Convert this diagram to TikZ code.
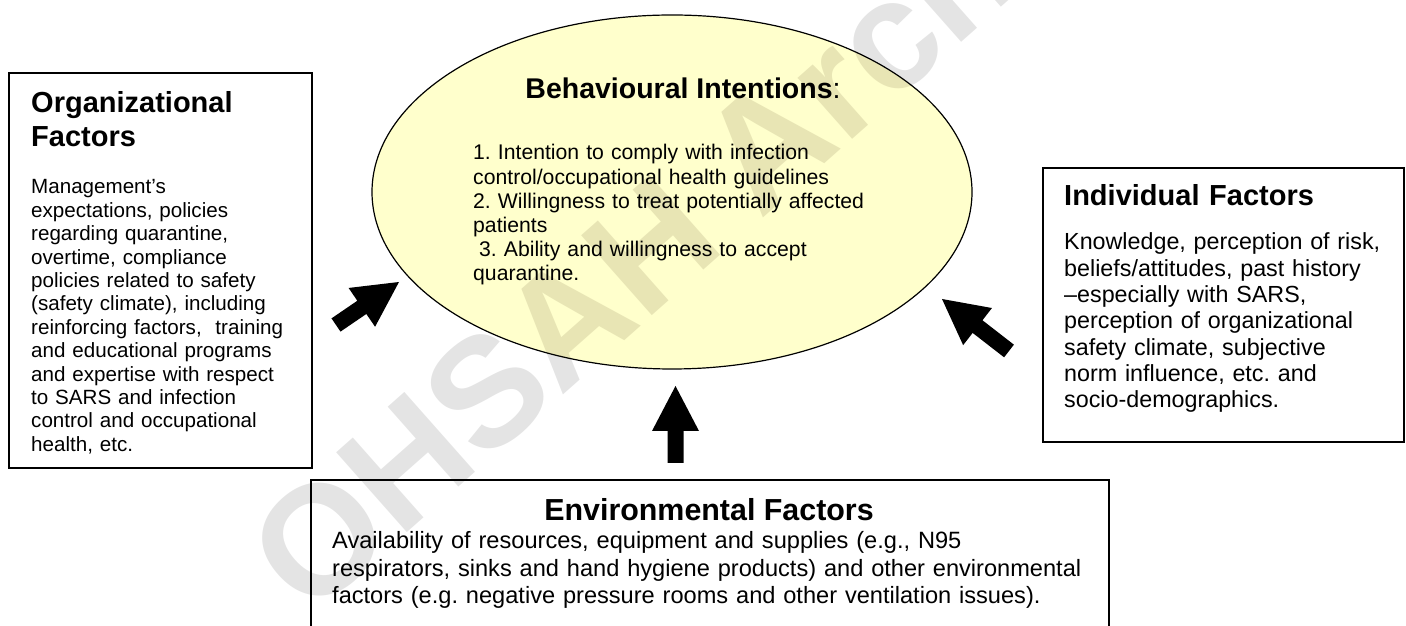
\documentclass[tikz,border=0pt]{standalone}
\usepackage{fontspec}
\setmainfont{Liberation Sans}
\usetikzlibrary{shapes.geometric,calc}
\definecolor{bifill}{HTML}{FFFFCC}
\definecolor{wmgray}{HTML}{E4E4E4}
\definecolor{wmyellow}{HTML}{E8E5B4}
\frenchspacing
\newcommand\blockarrow[2]{%
  \fill[black] ($(#1)!8pt!90:(#2)$) -- ($($(#2)!45pt!(#1)$)!8pt!-90:(#1)$)
    -- ($($(#2)!45pt!(#1)$)!23.5pt!-90:(#1)$) -- (#2)
    -- ($($(#2)!45pt!(#1)$)!23.5pt!90:(#1)$)
    -- ($($(#2)!45pt!(#1)$)!8pt!90:(#1)$) -- ($(#1)!8pt!-90:(#2)$) -- cycle;}
\newcommand\wmtext{OHSAH Archive}
\begin{document}
\begin{tikzpicture}[x=1pt,y=1pt,
  box/.style={draw=black, line width=1.7pt, rectangle, inner sep=0pt, outer sep=0pt, anchor=north west},
  head/.style={font=\bfseries\fontsize{29}{33.3}\selectfont, anchor=base west, inner sep=0pt, text width=330pt, align=left},
  bodyL/.style={font=\fontsize{20.6}{23.4}\selectfont, anchor=base west, inner sep=0pt, text width=300pt, align=left},
  bodyB/.style={font=\fontsize{23.3}{26.3}\selectfont, anchor=base west, inner sep=0pt, text width=800pt, align=left},
  wm/.style={rotate=41.5, inner sep=0pt, font=\bfseries\fontsize{155}{155}\selectfont},
]
\useasboundingbox (0,0) rectangle (1406,626);
\clip (0,0) rectangle (1406,626);

% Watermark (background)
\node[wm, text=wmgray] (wm) at (711,436) {\wmtext};

% Behavioural intentions ellipse (fill, watermark tint, border)
\node[ellipse, fill=bifill, minimum width=600pt, minimum height=354pt, inner sep=0pt] (bi) at (672,434) {};
\begin{scope}
  \clip (bi.center) ellipse [x radius=300pt, y radius=177pt];
  \node[wm, text=wmyellow] (wmy) at (711,436) {\wmtext};
\end{scope}
\draw[line width=1.2pt] (bi.center) ellipse [x radius=300pt, y radius=177pt];
\node[anchor=base, inner sep=0pt, font=\fontsize{28.5}{32}\selectfont] (biT) at (683,527) {\textbf{Behavioural Intentions}:};
\node[anchor=base west, inner sep=0pt, text width=420pt, align=left, font=\fontsize{21.2}{24.2}\selectfont] (biL) at (473,466)
  {1. Intention to comply with infection\\control/occupational health guidelines\\2. Willingness to treat potentially affected\\patients\\\hspace*{0.28em}3. Ability and willingness to accept\\quarantine.};

% Organizational factors
\node[box, minimum width=303pt, minimum height=395pt] (org) at (9,553) {};
\node[head] (orgT) at (31,513) {Organizational\\Factors};
\node[bodyL] (orgB) at (31,432) {Management’s\\expectations, policies\\regarding quarantine,\\overtime, compliance\\policies related to safety\\(safety climate), including\\reinforcing factors,\ \ training\\and educational programs\\and expertise with respect\\to SARS and infection\\control and occupational\\health, etc.};

% Individual factors
\node[box, minimum width=361pt, minimum height=274pt] (ind) at (1043,458) {};
\node[head] (indT) at (1064,420) {Individual Factors};
\node[bodyB] (indB) at (1064,376) {Knowledge, perception of risk,\\beliefs/attitudes, past history\\–especially with SARS,\\perception of organizational\\safety climate, subjective\\norm influence, etc. and\\socio-demographics.};

% Environmental factors
\node[box, minimum width=798pt, minimum height=200pt] (env) at (311,146) {};
\node[anchor=base, inner sep=0pt, font=\bfseries\fontsize{30.4}{34}\selectfont] (envT) at (709,105) {Environmental Factors};
\node[bodyB, font=\fontsize{23.6}{27.5}\selectfont] (envB) at (332,77) {Availability of resources, equipment and supplies (e.g., N95\\respirators, sinks and hand hygiene products) and other environmental\\factors (e.g. negative pressure rooms and other ventilation issues).};

% Block arrows
\coordinate (orgTail) at (336,301);
\coordinate (orgTip) at (399,344);
\coordinate (indTail) at (1009,275);
\coordinate (indTip) at (942,327);
\coordinate (envTail) at (675.5,163);
\coordinate (envTip) at (675.5,240);
\blockarrow{orgTail}{orgTip}
\blockarrow{indTail}{indTip}
\blockarrow{envTail}{envTip}
\end{tikzpicture}
\end{document}
